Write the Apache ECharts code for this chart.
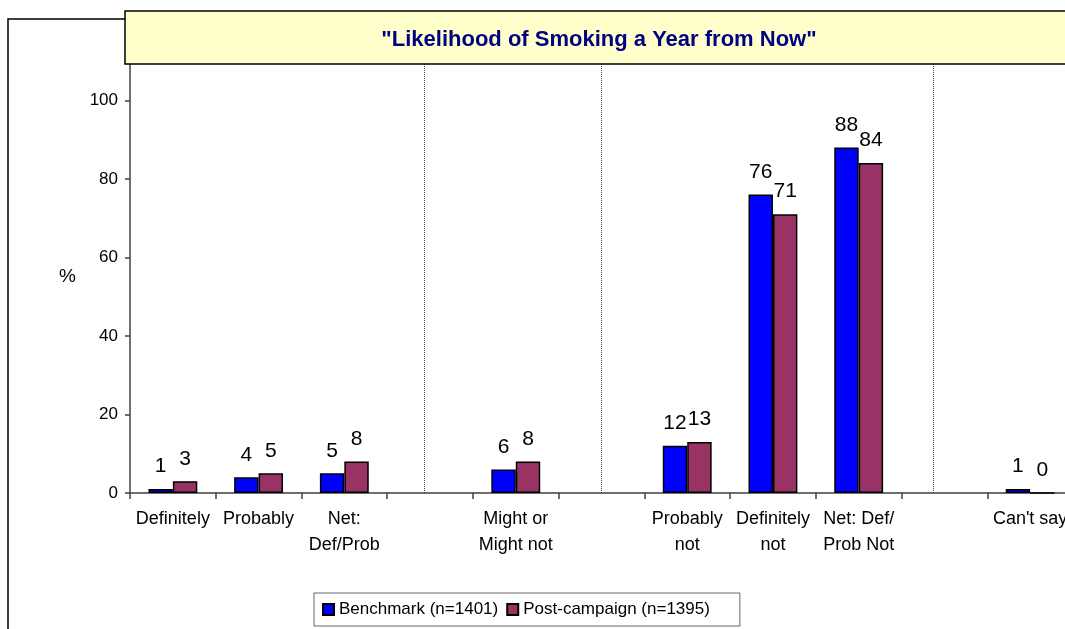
<!DOCTYPE html>
<html>
<head>
<meta charset="utf-8">
<script src="https://cdn.jsdelivr.net/npm/echarts@6/dist/echarts.min.js"></script>
<style>
html,body{margin:0;padding:0;background:#fff;overflow:hidden;width:1065px;height:629px;}
#chart{width:1080px;height:629px;}
</style>
</head>
<body>
<div id="chart"></div>
<script>
const categories = ["Definitely", "Probably", "Net:\nDef/Prob", "", "Might or\nMight not", "", "Probably\nnot", "Definitely\nnot", "Net: Def/\nProb Not", "", "Can't say"];
const benchmark = [1, 4, 5, null, 6, null, 12, 76, 88, null, 1];
const postCampaign = [3, 5, 8, null, 8, null, 13, 71, 84, null, 0];
const seriesNames = ["Benchmark (n=1401)", "Post-campaign (n=1395)"];
const yTicks = [0, 20, 40, 60, 80, 100];
const dividerPositions = [3.43, 5.5, 9.37];
const titleText = '"Likelihood of Smoking a Year from Now"';

const FONT = "'Liberation Sans', Arial, sans-serif";
const chart = echarts.init(document.getElementById('chart'), null, {renderer: 'canvas'});

const barLabel = {
  show: true, position: 'top', distance: 12, fontSize: 21, color: '#000', fontFamily: FONT,
  formatter: p => (p.value == null ? '' : String(p.value))
};

chart.setOption({
  animation: false,
  backgroundColor: '#fff',
  textStyle: {fontFamily: FONT},
  title: {
    text: titleText, left: 594, top: 24, textAlign: 'center', z: 100,
    textStyle: {fontSize: 22, fontWeight: 'bold', color: '#000080', fontFamily: FONT}
  },
  graphic: [
    {type: 'rect', z: -10, shape: {x: 8, y: 19, width: 2000, height: 2000},
     style: {fill: 'none', stroke: '#000', lineWidth: 1.5}},
    {type: 'rect', z: 50, shape: {x: 125, y: 11, width: 1000, height: 53},
     style: {fill: '#FFFFCC', stroke: '#000', lineWidth: 1.5}}
  ],
  legend: {
    data: seriesNames, left: 314, top: 593, orient: 'horizontal',
    itemWidth: 11, itemHeight: 11, itemGap: 8, padding: [8, 30, 8, 8],
    borderColor: '#666', borderWidth: 1, backgroundColor: '#fff',
    icon: 'rect',
    textStyle: {fontSize: 17, color: '#000', fontFamily: FONT}
  },
  grid: {left: 130, top: 61, right: 7, bottom: 136, containLabel: false},
  xAxis: [{
    type: 'category', data: categories,
    axisLine: {lineStyle: {color: '#404040', width: 1.5}},
    axisTick: {show: true, length: 6, alignWithLabel: false, lineStyle: {color: '#404040', width: 1.5}},
    axisLabel: {interval: 0, fontSize: 18, lineHeight: 26, margin: 13, color: '#000', fontFamily: FONT},
    splitLine: {show: false}
  }, {
    type: 'value', min: 0, max: categories.length, show: false
  }],
  yAxis: {
    type: 'value', min: 0, max: 110, interval: 20,
    name: '%', nameLocation: 'middle', nameRotate: 0, nameGap: 54,
    nameTextStyle: {fontSize: 19, color: '#000', fontFamily: FONT},
    axisLine: {show: true, lineStyle: {color: '#404040', width: 1.5}},
    axisTick: {show: true, length: 5, lineStyle: {color: '#404040', width: 1.5}},
    axisLabel: {fontSize: 17, color: '#000', margin: 12, showMaxLabel: false, fontFamily: FONT,
      formatter: v => (yTicks.indexOf(v) >= 0 ? String(v) : '')},
    splitLine: {show: false}
  },
  series: [
    {name: seriesNames[0], type: 'bar', data: benchmark, barGap: '0%', barCategoryGap: '43%',
     itemStyle: {color: '#0000FF', borderColor: '#000', borderWidth: 1.5}, label: barLabel},
    {name: seriesNames[1], type: 'bar', data: postCampaign, barGap: '0%', barCategoryGap: '43%',
     itemStyle: {color: '#993366', borderColor: '#000', borderWidth: 1.5}, label: barLabel},
    {name: 'dividers', type: 'line', xAxisIndex: 1, data: [], silent: true,
     markLine: {symbol: 'none', silent: true, label: {show: false},
       lineStyle: {type: 'dotted', color: '#444', width: 1},
       data: dividerPositions.map(v => ({xAxis: v}))}}
  ]
});
</script>
</body>
</html>
